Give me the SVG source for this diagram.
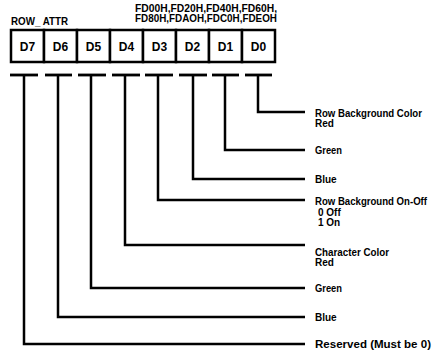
<svg xmlns="http://www.w3.org/2000/svg" width="435" height="352" viewBox="0 0 435 352">
<style>
text{font-family:"Liberation Sans",Arial,sans-serif;font-weight:bold;fill:#000}
.lbl{font-size:10px}
.cell{font-size:12px;text-anchor:middle}
.hdr{font-size:10px}
.box{fill:#fff;stroke:#000;stroke-width:2.5}
.ln{fill:none;stroke:#000;stroke-width:2.5}
.dash{stroke:#000;stroke-width:2.8}
</style>
<rect width="435" height="352" fill="#fff"/>
<g id="header">
<text class="hdr" x="11" y="25" textLength="57" lengthAdjust="spacingAndGlyphs">ROW_ ATTR</text>
<text class="hdr" x="135" y="12" textLength="142" lengthAdjust="spacingAndGlyphs">FD00H,FD20H,FD40H,FD60H,</text>
<text class="hdr" x="135" y="21.5" textLength="142" lengthAdjust="spacingAndGlyphs">FD80H,FDAOH,FDC0H,FDEOH</text>
</g>
<g id="register">
<rect class="box" x="11" y="30" width="33" height="32"/>
<rect class="box" x="44" y="30" width="33" height="32"/>
<rect class="box" x="77" y="30" width="33" height="32"/>
<rect class="box" x="110" y="30" width="33" height="32"/>
<rect class="box" x="143" y="30" width="33" height="32"/>
<rect class="box" x="176" y="30" width="33" height="32"/>
<rect class="box" x="209" y="30" width="33" height="32"/>
<rect class="box" x="242" y="30" width="33" height="32"/>
<text class="cell" x="27.5" y="51">D7</text>
<text class="cell" x="60.5" y="51">D6</text>
<text class="cell" x="93.5" y="51">D5</text>
<text class="cell" x="126.5" y="51">D4</text>
<text class="cell" x="159.5" y="51">D3</text>
<text class="cell" x="192.5" y="51">D2</text>
<text class="cell" x="225.5" y="51">D1</text>
<text class="cell" x="258.5" y="51">D0</text>
</g>
<g id="connectors">
<line class="dash" x1="10" y1="75" x2="38" y2="75"/>
<line class="dash" x1="45" y1="75" x2="72" y2="75"/>
<line class="dash" x1="78" y1="75" x2="106" y2="75"/>
<line class="dash" x1="112" y1="75" x2="140" y2="75"/>
<line class="dash" x1="145" y1="75" x2="173" y2="75"/>
<line class="dash" x1="179" y1="75" x2="207" y2="75"/>
<line class="dash" x1="212" y1="75" x2="239" y2="75"/>
<line class="dash" x1="245" y1="75" x2="272" y2="75"/>
<polyline class="ln" points="258,75 258,112 305,112"/>
<polyline class="ln" points="225,75 225,150 305,150"/>
<polyline class="ln" points="193,75 193,179 305,179"/>
<polyline class="ln" points="158,75 158,200 305,200"/>
<polyline class="ln" points="125,75 125,245 305,245"/>
<polyline class="ln" points="91,75 91,288 305,288"/>
<polyline class="ln" points="58,75 58,317 305,317"/>
<polyline class="ln" points="24,75 24,344 305,344"/>
</g>
<g id="label-d0"><text class="lbl" x="315" y="117" textLength="107" lengthAdjust="spacingAndGlyphs">Row Background Color</text><text class="lbl" x="315" y="127">Red</text></g>
<g id="label-d1"><text class="lbl" x="315" y="154" textLength="27" lengthAdjust="spacingAndGlyphs">Green</text></g>
<g id="label-d2"><text class="lbl" x="315" y="183">Blue</text></g>
<g id="label-d3"><text class="lbl" x="315" y="205" textLength="112" lengthAdjust="spacingAndGlyphs">Row Background On-Off</text><text class="lbl" x="318" y="216">0  Off</text><text class="lbl" x="318" y="226">1  On</text></g>
<g id="label-d4"><text class="lbl" x="315" y="256" textLength="74" lengthAdjust="spacingAndGlyphs">Character Color</text><text class="lbl" x="315" y="266">Red</text></g>
<g id="label-d5"><text class="lbl" x="315" y="292" textLength="27" lengthAdjust="spacingAndGlyphs">Green</text></g>
<g id="label-d6"><text class="lbl" x="315" y="321">Blue</text></g>
<g id="label-d7"><text class="lbl" x="315" y="348" textLength="116" lengthAdjust="spacingAndGlyphs">Reserved (Must be 0)</text></g>
</svg>
